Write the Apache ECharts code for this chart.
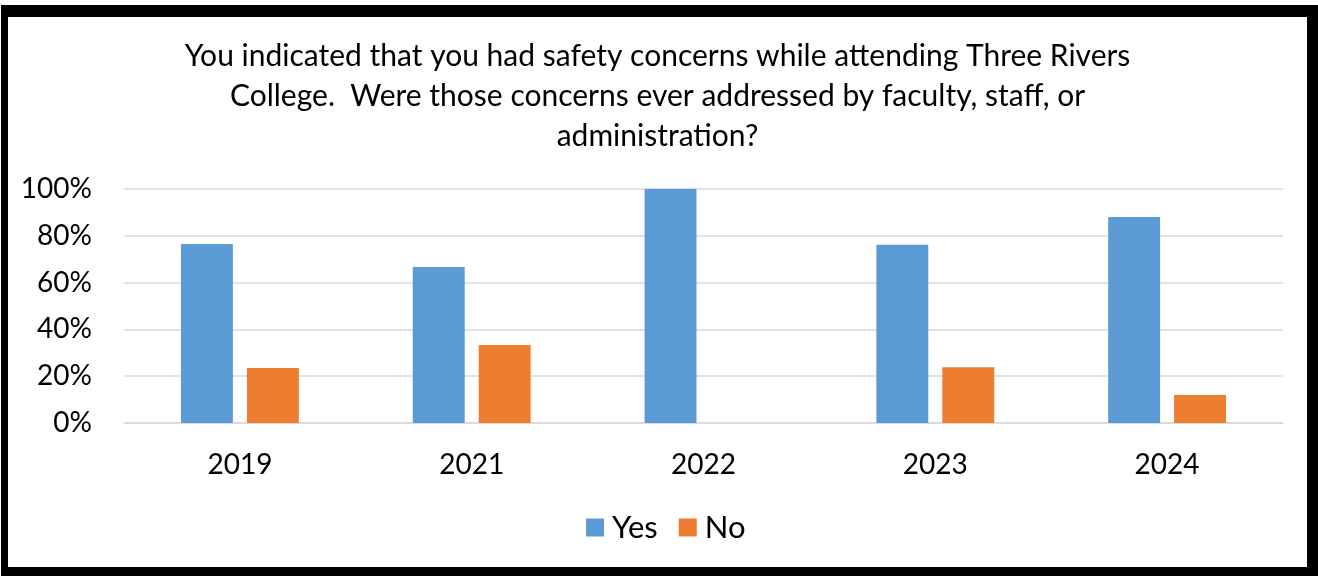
<!DOCTYPE html>
<html>
<head>
<meta charset="utf-8">
<script src="https://cdn.jsdelivr.net/npm/echarts@6/dist/echarts.min.js"></script>
<style>
  html, body { margin: 0; padding: 0; background: #fff; width: 1318px; height: 576px; overflow: hidden; }
  #frame { position: absolute; left: 1px; top: 5px; width: 1299px; height: 550px;
           border-style: solid; border-color: #000; border-width: 12px 11px 9px 7px; }
  #chart { position: absolute; left: 0; top: 0; width: 1299px; height: 550px; }
</style>
</head>
<body>
<div id="frame"><div id="chart"></div></div>
<script>
const titleText = "You indicated that you had safety concerns while attending Three Rivers\nCollege.  Were those concerns ever addressed by faculty, staff, or\nadministration?";
const categories = ["2019", "2021", "2022", "2023", "2024"];
const yesValues = [76.5, 66.7, 100, 76.2, 88.0];
const noValues = [23.5, 33.3, 0, 23.8, 12.0];
const seriesNames = ["Yes", "No"];

const FONT = "Lato, 'Open Sans', sans-serif";
const chart = echarts.init(document.getElementById('chart'));
chart.setOption({
  animation: false,
  color: ['#5B9BD5', '#ED7D31'],
  title: {
    text: titleText,
    left: 'center',
    top: 14,
    textStyle: { fontFamily: FONT, fontSize: 30, fontWeight: 'normal', color: '#000', lineHeight: 40 }
  },
  legend: {
    data: seriesNames,
    bottom: 19,
    left: 573,
    itemWidth: 18,
    itemHeight: 18,
    itemGap: 21,
    icon: 'rect',
    textStyle: { fontFamily: FONT, fontSize: 31, color: '#000', padding: [0, 0, 0, 3] }
  },
  grid: { left: 116, right: 24, top: 172, bottom: 144, containLabel: false },
  xAxis: {
    type: 'category',
    data: categories,
    axisTick: { show: false },
    axisLine: { lineStyle: { color: '#d9d9d9', width: 1.5 } },
    axisLabel: { fontFamily: FONT, fontSize: 28, color: '#000', margin: 28 }
  },
  yAxis: {
    type: 'value',
    min: 0, max: 100, interval: 20,
    axisLine: { show: false },
    axisTick: { show: false },
    splitLine: { lineStyle: { color: '#d9d9d9', width: 1.5 } },
    axisLabel: { fontFamily: FONT, fontSize: 28, color: '#000', margin: 32, formatter: v => v + '%' }
  },
  series: [
    { name: seriesNames[0], type: 'bar', data: yesValues, barWidth: '22.4%', barGap: '27%' },
    { name: seriesNames[1], type: 'bar', data: noValues, barWidth: '22.4%', barGap: '27%' }
  ]
});
</script>
</body>
</html>
